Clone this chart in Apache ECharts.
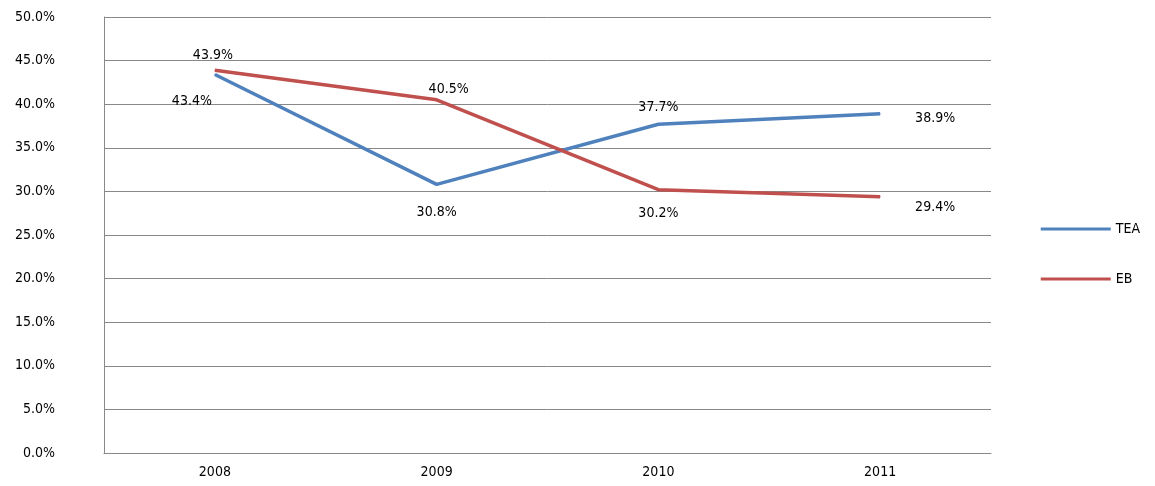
<!DOCTYPE html>
<html><head><meta charset="utf-8">
<script src="https://cdn.jsdelivr.net/npm/echarts@6/dist/echarts.min.js"></script>
<style>html,body{margin:0;padding:0;background:#fff}#c{width:1155px;height:486px}</style>
</head><body><div id="c"></div>
<script>
const categories = ['2008','2009','2010','2011'];
const tea = [43.4, 30.8, 37.7, 38.9];
const eb = [43.9, 40.5, 30.2, 29.4];
const teaPos = [[-23,39],[0,40],[0,-4],[55,17]];
const ebPos = [[-2,-2],[12,2],[0,36],[55,23]];
const font = '"Liberation Sans Narrow","DejaVu Sans Condensed",sans-serif';
function mk(vals, pos){
  return vals.map((v,i)=>({value:v,label:{show:true,position:'top',offset:pos[i]}}));
}
const chart = echarts.init(document.getElementById('c'));
chart.setOption({
  animation:false,
  textStyle:{fontFamily:font},
  grid:{left:104,right:164,top:17,bottom:33},
  legend:{orient:'vertical',right:10,top:217,itemGap:36,itemWidth:70,itemHeight:3,icon:'rect',
    textStyle:{fontFamily:font,fontSize:14,color:'#000'},data:['TEA','EB']},
  xAxis:{type:'category',data:categories,
    axisLine:{lineStyle:{color:'#888'}},axisTick:{show:false},
    axisLabel:{color:'#000',fontSize:14,fontFamily:font,margin:12}},
  yAxis:{type:'value',min:0,max:50,interval:5,
    axisLine:{show:true,lineStyle:{color:'#888'}},
    splitLine:{lineStyle:{color:'#888'}},
    axisLabel:{color:'#000',fontSize:14,fontFamily:font,margin:49,formatter:v=>v.toFixed(1)+'%'}},
  series:[
    {name:'TEA',type:'line',data:mk(tea,teaPos),symbol:'circle',symbolSize:1,showSymbol:true,lineStyle:{width:3.5,color:'#4f81bd'},itemStyle:{color:'#4f81bd'},
     label:{show:true,fontSize:14,fontFamily:font,color:'#000',formatter:p=>p.value.toFixed(1)+'%'}},
    {name:'EB',type:'line',data:mk(eb,ebPos),symbol:'circle',symbolSize:1,showSymbol:true,lineStyle:{width:3.5,color:'#c0504d'},itemStyle:{color:'#c0504d'},
     label:{show:true,fontSize:14,fontFamily:font,color:'#000',formatter:p=>p.value.toFixed(1)+'%'}}
  ]
});
</script></body></html>
